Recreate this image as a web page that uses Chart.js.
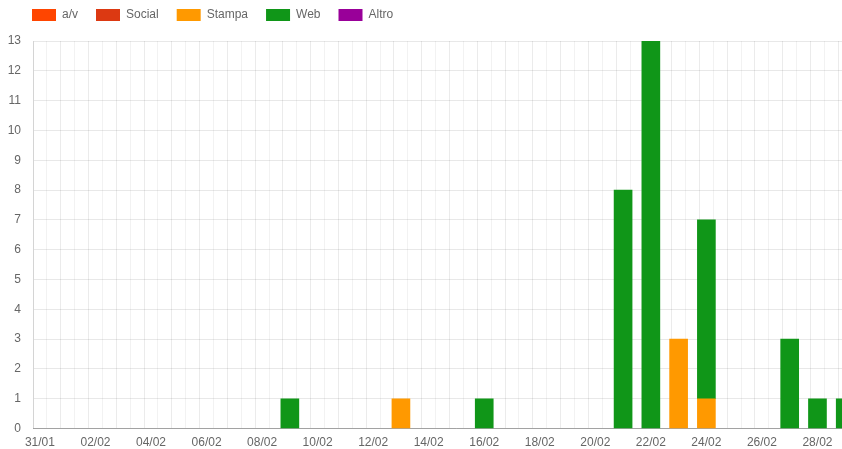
<!DOCTYPE html>
<html>
<head>
<meta charset="utf-8">
<script src="https://cdn.jsdelivr.net/npm/chart.js@4.4.1/dist/chart.umd.min.js"></script>
<style>
  html, body { margin: 0; padding: 0; background: #fff; overflow: hidden; }
  /* il grafico originale è più grande della finestra: l'ultima barra (29/02) risulta tagliata */
  #box { width: 880px; height: 457px; }
</style>
</head>
<body>
<div id="box"><canvas id="grafico"></canvas></div>
<script>
// giorni (indice 0 = 31/01), l'ultimo serve solo da limite dell'asse
const giorni = ['31/01', '01/02', '02/02', '03/02', '04/02', '05/02', '06/02', '07/02', '08/02', '09/02',
  '10/02', '11/02', '12/02', '13/02', '14/02', '15/02', '16/02', '17/02', '18/02', '19/02',
  '20/02', '21/02', '22/02', '23/02', '24/02', '25/02', '26/02', '27/02', '28/02', '29/02', '01/03'];

// uscite per giorno, da 31/01 a 29/02
const av      = [0,0,0,0,0,0,0,0,0,0, 0,0,0,0,0,0,0,0,0,0, 0,0,0,0,0,0,0,0,0,0];
const social  = [0,0,0,0,0,0,0,0,0,0, 0,0,0,0,0,0,0,0,0,0, 0,0,0,0,0,0,0,0,0,0];
const stampa  = [0,0,0,0,0,0,0,0,0,0, 0,0,0,1,0,0,0,0,0,0, 0,0,0,3,1,0,0,0,0,0];
const web     = [0,0,0,0,0,0,0,0,0,1, 0,0,0,0,0,0,1,0,0,0, 0,8,13,0,6,0,0,3,1,1];
const altro   = [0,0,0,0,0,0,0,0,0,0, 0,0,0,0,0,0,0,0,0,0, 0,0,0,0,0,0,0,0,0,0];

const serie = [
  { label: 'a/v', valori: av, colore: '#ff4500' },
  { label: 'Social', valori: social, colore: '#dc3912' },
  { label: 'Stampa', valori: stampa, colore: '#ff9900' },
  { label: 'Web', valori: web, colore: '#109618' },
  { label: 'Altro', valori: altro, colore: '#990099' }
];

Chart.defaults.font.family = "'Liberation Sans', Arial, sans-serif";
Chart.defaults.font.size = 12;
Chart.defaults.color = '#666';

// linee intere più marcate, mezze linee più chiare
function coloreGriglia(forte, debole) {
  return (c) => (c.tick && !Number.isInteger(c.tick.value)) ? debole : forte;
}

// legenda: un po' di spazio sotto e spostata a destra come nell'originale
const spazioLegenda = {
  id: 'spazioLegenda',
  beforeInit(chart) {
    const fitOriginale = chart.legend.fit;
    chart.legend.fit = function () {
      fitOriginale.call(this);
      this.height += 10;
    };
  },
  afterLayout(chart) {
    chart.legend.left += 6;
  }
};

const ctx = document.getElementById('grafico').getContext('2d');
const grafico = new Chart(ctx, {
  type: 'bar',
  data: {
    datasets: serie.map((s) => ({
      label: s.label,
      // i giorni a zero non disegnano nulla
      data: s.valori.map((v, i) => ({ x: i, y: v === 0 ? null : v })),
      backgroundColor: s.colore,
      borderColor: s.colore,
      borderWidth: 0,
      barThickness: 18
    }))
  },
  options: {
    responsive: true,
    maintainAspectRatio: false,
    animation: false,
    layout: { padding: { left: 8, top: -9, right: 0, bottom: 0 } },
    plugins: {
      legend: {
        position: 'top',
        align: 'start',
        labels: { boxWidth: 24, boxHeight: 12, padding: 18 }
      },
      tooltip: { enabled: false }
    },
    scales: {
      x: {
        type: 'linear',
        stacked: true,
        min: 0,
        max: giorni.length - 1,
        grid: { drawTicks: false, color: coloreGriglia('rgba(0,0,0,0.08)', 'rgba(0,0,0,0.05)') },
        border: { color: 'rgba(0,0,0,0.3)' },
        ticks: {
          stepSize: 0.5,
          autoSkip: false,
          maxRotation: 0,
          padding: 7,
          callback: (v) => (Number.isInteger(v) && v % 2 === 0 && v < giorni.length - 1) ? giorni[v] : ''
        }
      },
      y: {
        stacked: true,
        min: 0,
        max: 13,
        afterFit: (scala) => { scala.width = 25; },
        grid: { drawTicks: false, color: coloreGriglia('rgba(0,0,0,0.09)', 'rgba(0,0,0,0.04)') },
        border: { color: 'rgba(0,0,0,0.1)' },
        ticks: {
          stepSize: 0.5,
          padding: 12,
          callback: (v) => Number.isInteger(v) ? v : ''
        }
      }
    }
  },
  plugins: [spazioLegenda]
});
</script>
</body>
</html>
